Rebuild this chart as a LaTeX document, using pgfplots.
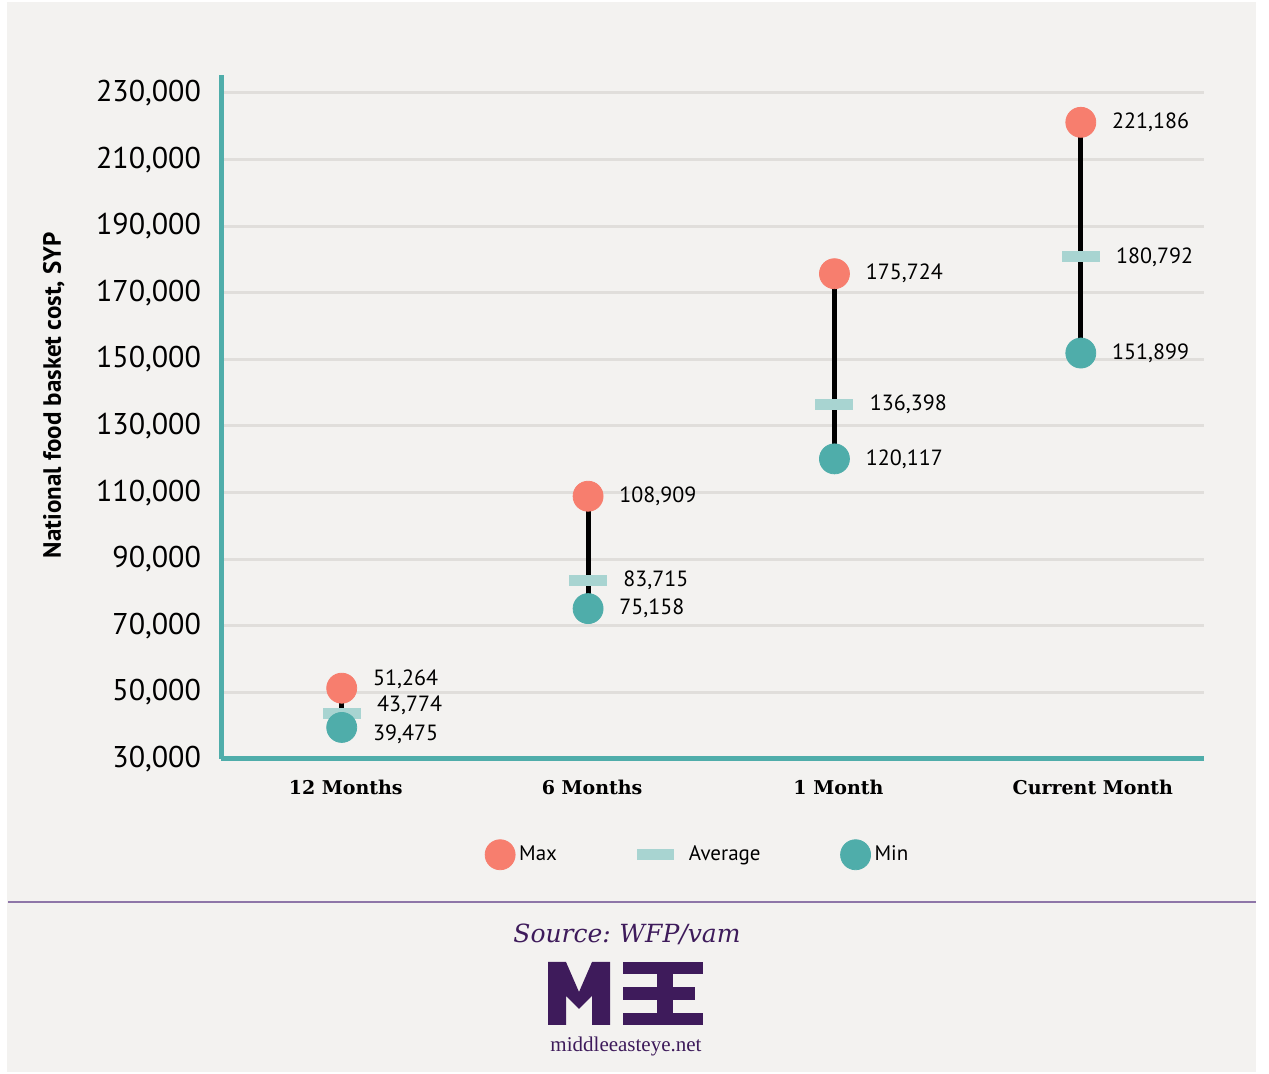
\documentclass[border=0pt]{standalone}
\usepackage{pgfplots}
\pgfplotsset{compat=1.18}
\usepackage{pgfplotstable}
\usepackage{fontspec}
\setmainfont{PT Sans}
\newfontfamily\slab{DejaVu Serif}
\newfontfamily\logoserif{Liberation Serif}

\definecolor{bgc}{HTML}{F3F2F0}
\definecolor{gridc}{HTML}{E0DEDB}
\definecolor{tealc}{HTML}{4FADAA}
\definecolor{maxc}{HTML}{F77E6E}
\definecolor{avgc}{HTML}{A8D4D1}
\definecolor{purp}{HTML}{3E1B5B}
\definecolor{rulec}{HTML}{8E76A8}

\pgfdeclareplotmark{avgbar}{\pgfpathrectangle{\pgfpoint{-9.5pt}{-2.75pt}}{\pgfpoint{19pt}{5.5pt}}\pgfusepathqfill}

% x = category, y = value, dy = label shift (pt)
\pgfplotstableread{
x y dy
0 51264 4.5
1 108909 0
2 175724 0
3 221186 0
}\maxdata
\pgfplotstableread{
x y dy
0 43774 4
1 83715 0
2 136398 0
3 180792 0
}\avgdata
\pgfplotstableread{
x y dy
0 39475 -3.5
1 75158 0
2 120117 0
3 151899 0
}\mindata

\pgfplotsset{
  vallabel/.style={nodes near coords,
    visualization depends on={\thisrow{dy} \as \dy},
    every node near coord/.style={anchor=west, inner sep=0pt, xshift=#1, yshift=\dy pt,
      text=black, font=\fontsize{11}{13}\selectfont}},
}

\begin{document}
\begin{tikzpicture}
\fill[white] (0,0) rectangle (634.5pt,537pt);
\fill[bgc] (3.5pt,1pt) rectangle (628pt,536pt);
\draw[rulec, line width=0.6pt] (4pt,86pt) -- (628pt,86pt);
\node[text=purp, font=\slab\itshape\fontsize{12.5}{14}\selectfont] at (313.5pt,70pt) {Source:\kern-1pt{} WFP/vam};
\node[text=purp, font=\logoserif\fontsize{10.5}{12}\selectfont] at (313pt,14pt) {middleeasteye.net};
\begin{scope}[shift={(0pt,537pt)}, x=0.5pt, y=-0.5pt]
  \fill[purp] (548,1025) -- (548,962) -- (566,962) -- (579,992) -- (592,962) -- (610,962)
    -- (610,1025) -- (592,1025) -- (592,996) -- (579,1009) -- (566,996) -- (566,1025) -- cycle;
  \fill[purp] (657,962) rectangle (673,1025);
  \fill[purp] (623,962) rectangle (657,974);
  \fill[purp] (623,987) rectangle (657,1000);
  \fill[purp] (623,1013) rectangle (657,1025);
  \fill[purp] (673,962) rectangle (703,974);
  \fill[purp] (673,987) rectangle (695,1000);
  \fill[purp] (673,1013) rectangle (703,1025);
\end{scope}
\begin{axis}[
  at={(110.5pt,157.5pt)}, anchor=south west,
  scale only axis, width=491.5pt, height=342pt,
  xmin=-0.49, xmax=3.5, ymin=30000, ymax=235400,
  clip=false,
  axis x line=bottom, axis y line=left,
  axis line style={-, draw=tealc, line width=2.5pt},
  xtick={0,1,2,3},
  xticklabels={12 Months, 6 Months, 1 Month, \hspace*{8pt}Current Month},
  ytick={30000,50000,...,230000},
  scaled y ticks=false,
  ymajorgrids,
  major grid style={draw=gridc, line width=1.5pt},
  major tick length=0pt,
  /pgf/number format/.cd, fixed, precision=0, 1000 sep={,}, assume math mode=true,
  /pgfplots/.cd,
  yticklabel style={font=\fontsize{15}{18}\selectfont, xshift=-6.5pt},
  xticklabel style={font=\slab\bfseries\fontsize{9.5}{11}\selectfont, yshift=-7pt, xshift=2pt},
  ylabel={National food basket cost, SYP},
  ylabel style={at={(axis description cs:-0.170,0.532)}, anchor=center,
    font=\bfseries\fontsize{12.5}{14}\selectfont},
  legend columns=3,
  legend style={at={(axis description cs:0.486,-0.140)}, anchor=center,
    draw=none, fill=none, font=\fontsize{10.5}{12}\selectfont,
    /tikz/every even column/.append style={column sep=38pt}},
]
\addlegendimage{only marks, mark=*, mark size=7.5pt, color=maxc}
\addlegendentry{Max}
\addlegendimage{legend image code/.code={
  \fill[avgc, draw=none] (0pt,-2.75pt) rectangle (18.5pt,2.75pt);
  \path[draw=none] (0pt,0pt) -- (24pt,0pt);}}
\addlegendentry{Average}
\addlegendimage{only marks, mark=*, mark size=7.5pt, color=tealc}
\addlegendentry{Min}

\addplot[only marks, mark=avgbar, color=avgc, forget plot, vallabel=17.5pt]
  table[x=x, y=y] {\avgdata};
\addplot[black, line width=2.5pt, forget plot] coordinates {(0,39475) (0,51264)};
\addplot[black, line width=2.5pt, forget plot] coordinates {(1,75158) (1,108909)};
\addplot[black, line width=2.5pt, forget plot] coordinates {(2,120117) (2,175724)};
\addplot[black, line width=2.5pt, forget plot] coordinates {(3,151899) (3,221186)};
\addplot[only marks, mark=*, mark size=7.5pt, color=maxc, forget plot, vallabel=15.5pt]
  table[x=x, y=y] {\maxdata};
\addplot[only marks, mark=*, mark size=7.5pt, color=tealc, forget plot, vallabel=15.5pt]
  table[x=x, y=y] {\mindata};
\end{axis}
\end{tikzpicture}
\end{document}
